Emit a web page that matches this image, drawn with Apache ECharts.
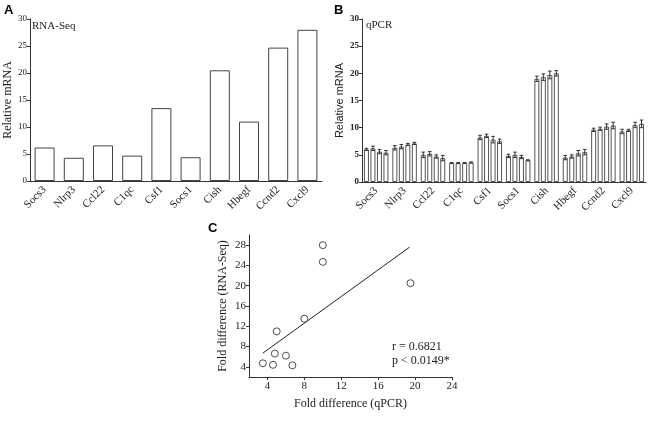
<!DOCTYPE html>
<html><head><meta charset="utf-8">
<script src="https://cdn.jsdelivr.net/npm/echarts@6/dist/echarts.min.js"></script>
<style>html,body{margin:0;padding:0;background:#fff}#c{width:661px;height:424px}</style>
</head><body><div id="c"></div>
<script>
const genes = ['Socs3','Nlrp3','Ccl22','C1qc','Csf1','Socs1','Cish','Hbegf','Ccnd2','Cxcl9'];
const rnaSeq = [6.2, 4.3, 6.6, 4.7, 13.5, 4.4, 20.5, 11.0, 24.7, 28.0];
const qpcr1 = [6.0, 6.3, 5.0, 3.5, 8.2, 4.8, 19.0, 4.5, 9.6, 9.3];
const qpcr2 = [6.2, 6.5, 5.2, 3.5, 8.5, 5.0, 19.3, 4.7, 9.8, 9.5];
const qpcr3 = [5.6, 6.9, 4.7, 3.5, 7.8, 4.6, 19.7, 5.3, 10.2, 10.5];
const qpcr4 = [5.4, 7.1, 4.4, 3.6, 7.5, 4.0, 20.0, 5.5, 10.4, 10.7];
const err1 = [0.2, 0.4, 0.5, 0.1, 0.4, 0.3, 0.5, 0.4, 0.3, 0.4];
const err2 = [0.4, 0.4, 0.4, 0.1, 0.3, 0.5, 0.6, 0.3, 0.3, 0.2];
const err3 = [0.4, 0.2, 0.3, 0.1, 0.6, 0.3, 0.7, 0.5, 0.5, 0.5];
const err4 = [0.4, 0.2, 0.5, 0.1, 0.4, 0.1, 0.5, 0.5, 0.6, 0.7];
const scatterQ = [6.0, 6.7, 4.8, 3.5, 8.0, 4.6, 19.5, 5.0, 10.0, 10.0];
const scatterR = [6.2, 4.3, 6.6, 4.7, 13.5, 4.4, 20.5, 11.0, 24.7, 28.0];
const fitLine = [[3.5, 6.7], [19.4, 27.6]];
const yTicksAB = [0, 5, 10, 15, 20, 25, 30];
const xTicksC = [4, 8, 12, 16, 20, 24];
const yTicksC = [4, 8, 12, 16, 20, 24, 28];

const serif = 'Liberation Serif';
const sans = 'Liberation Sans';
const axisCol = '#333';
const chart = echarts.init(document.getElementById('c'));

const qSeries = [qpcr1, qpcr2, qpcr3, qpcr4];
const qErr = [err1, err2, err3, err4];
const BW = 5, GAP = 1.5;

const series = [];
series.push({type:'bar', xAxisIndex:0, yAxisIndex:0, data: rnaSeq, barWidth: 20,
  itemStyle:{color:'#fff', borderColor:'#444', borderWidth:1}, silent:true});
qSeries.forEach((d, i) => {
  series.push({type:'bar', xAxisIndex:1, yAxisIndex:1, data: d, barWidth: BW, barGap: (GAP/BW*100)+'%',
    itemStyle:{color:'#fff', borderColor:'#555', borderWidth:1}, silent:true});
});
qSeries.forEach((d, i) => {
  series.push({type:'custom', xAxisIndex:1, yAxisIndex:1,
    data: d.map((v, j) => [j, v, qErr[i][j]]),
    renderItem: function(params, api){
      const j = api.value(0), v = api.value(1), e = api.value(2);
      const c = api.coord([j, v]);
      const total = 4*BW + 3*GAP;
      const off = -total/2 + i*(BW+GAP) + BW/2;
      const x = c[0] + off;
      const top = api.coord([j, v+e])[1];
      const bot = api.coord([j, v-e])[1];
      const st = {stroke:'#333', lineWidth:1};
      return {type:'group', children:[
        {type:'line', shape:{x1:x, y1:top, x2:x, y2:bot}, style:st},
        {type:'line', shape:{x1:x-1.8, y1:top, x2:x+1.8, y2:top}, style:st},
        {type:'line', shape:{x1:x-1.8, y1:bot, x2:x+1.8, y2:bot}, style:st}
      ]};
    }, silent:true, z:5});
});
series.push({type:'scatter', xAxisIndex:2, yAxisIndex:2,
  data: scatterQ.map((q, i) => [q, scatterR[i]]), symbol:'circle', symbolSize:7,
  itemStyle:{color:'#fff', borderColor:'#222', borderWidth:1}, silent:true, z:3});
series.push({type:'line', xAxisIndex:2, yAxisIndex:2, data: fitLine, symbol:'none',
  lineStyle:{color:'#222', width:1}, silent:true, z:2});

const catAxis = (gi, fs) => ({type:'category', gridIndex:gi, data: genes,
  axisLine:{lineStyle:{color:axisCol, width:1}},
  axisTick:{alignWithLabel:true, length:4, lineStyle:{color:axisCol}},
  axisLabel:{rotate:45, fontFamily:serif, fontSize:fs, color:'#222', margin:7}});
const valAxis = (gi, bold, fs) => ({type:'value', gridIndex:gi, min:0, max:30, interval:5,
  name:'Relative mRNA', nameLocation:'middle', nameGap: bold?17:16,
  nameTextStyle:{fontFamily: bold? sans : serif, fontSize: bold?11:12, color:'#222'},
  axisLine:{show:true, lineStyle:{color:axisCol}},
  axisTick:{show:true, length:3, lineStyle:{color:axisCol}},
  splitLine:{show:false},
  axisLabel:{fontFamily:serif, fontSize:fs, fontWeight: bold?'bold':'normal', color:'#222', margin:3}});

chart.setOption({
  animation:false,
  grid:[
    {left:30, top:19, width:292, height:162},
    {left:362, top:19, width:284, height:163},
    {left:249, top:235, width:203, height:142}
  ],
  xAxis:[catAxis(0, 11), catAxis(1, 11),
    {type:'value', gridIndex:2, min:2, max:24,
     name:'Fold difference (qPCR)', nameLocation:'middle', nameGap:21,
     nameTextStyle:{fontFamily:serif, fontSize:12, color:'#222'},
     axisLine:{lineStyle:{color:axisCol}},
     axisTick:{show:true, length:3, customValues:xTicksC, lineStyle:{color:axisCol}},
     axisLabel:{customValues:xTicksC, fontFamily:serif, fontSize:11, color:'#222', margin:4},
     splitLine:{show:false}}],
  yAxis:[valAxis(0, false, 9), valAxis(1, true, 9),
    {type:'value', gridIndex:2, min:2, max:30,
     name:'Fold difference (RNA-Seq)', nameLocation:'middle', nameGap:20,
     nameTextStyle:{fontFamily:serif, fontSize:12, color:'#222'},
     axisLine:{show:true, lineStyle:{color:axisCol}},
     axisTick:{show:true, length:3, customValues:yTicksC, lineStyle:{color:axisCol}},
     axisLabel:{customValues:yTicksC, fontFamily:serif, fontSize:11, color:'#222', margin:3},
     splitLine:{show:false}}],
  graphic:[
    {type:'text', left:4, top:4, style:{text:'A', font:'bold 13px '+sans, fill:'#000'}},
    {type:'text', left:334, top:4, style:{text:'B', font:'bold 13px '+sans, fill:'#000'}},
    {type:'text', left:208, top:222, style:{text:'C', font:'bold 13px '+sans, fill:'#000'}},
    {type:'text', left:32, top:21, style:{text:'RNA-Seq', font:'11px '+serif, fill:'#222'}},
    {type:'text', left:366, top:20, style:{text:'qPCR', font:'11px '+serif, fill:'#222'}},
    {type:'text', left:392, top:341, style:{text:'r = 0.6821', font:'12px '+serif, fill:'#222'}},
    {type:'text', left:392, top:355, style:{text:'p < 0.0149*', font:'12px '+serif, fill:'#222'}}
  ],
  series: series
});
</script></body></html>
